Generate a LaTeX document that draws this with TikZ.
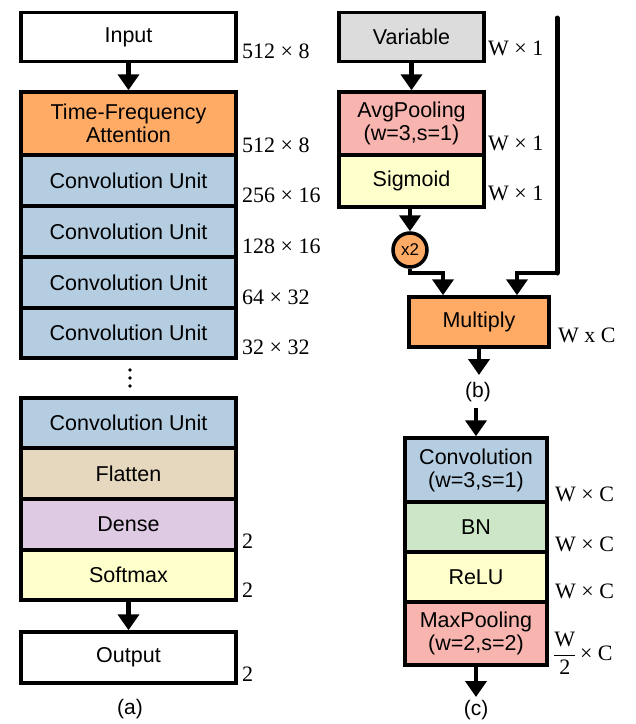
\documentclass[tikz,border=0pt]{standalone}
\usepackage{fontspec}
\setmainfont{Liberation Serif}
\newfontfamily\sansf{Liberation Sans}
\usetikzlibrary{arrows.meta}
\definecolor{corange}{HTML}{FFAB66}
\definecolor{cblue}{HTML}{B4CDE1}
\definecolor{cbeige}{HTML}{E6D8BE}
\definecolor{clav}{HTML}{DECBE3}
\definecolor{cyellow}{HTML}{FFFFCC}
\definecolor{cgray}{HTML}{DCDCDC}
\definecolor{cpink}{HTML}{F8B4AE}
\definecolor{cgreen}{HTML}{CDE6C8}
\tikzset{
  blk/.style={draw, line width=3.5pt, inner sep=0pt, align=center,
    font=\sansf\fontsize{21.5}{23}\selectfont},
  lcol/.style={blk, minimum width=215pt},
  rcol/.style={blk, minimum width=145pt},
  lab/.style={font=\fontsize{22}{24}\selectfont, inner sep=0pt, anchor=base west},
  captxt/.style={font=\sansf\fontsize{21}{23}\selectfont, inner sep=0pt},
  arr/.style={line width=4.5pt, -{Triangle[width=21pt,length=16pt]}},
}
\begin{document}
\begin{tikzpicture}[x=1pt,y=-1pt]
\useasboundingbox (0,0) rectangle (636,724);
% ---------- (a) ----------
\node[lcol, minimum height=49pt, fill=white] (inp) at (128.5,37) {Input};
\node[lcol, minimum height=63pt, fill=corange] (tf) at (128.5,123.5) {Time-Frequency\\Attention};
\node[lcol, minimum height=51pt, fill=cblue] (c1) at (128.5,180.5) {Convolution Unit};
\node[lcol, minimum height=51pt, fill=cblue] (c2) at (128.5,231.5) {Convolution Unit};
\node[lcol, minimum height=51pt, fill=cblue] (c3) at (128.5,282.5) {Convolution Unit};
\node[lcol, minimum height=50pt, fill=cblue] (c4) at (128.5,333) {Convolution Unit};
\foreach \yy in {370,378,386} \fill (130,\yy) circle (1.8pt);
\node[lcol, minimum height=50pt, fill=cblue] (c5) at (128.5,423) {Convolution Unit};
\node[lcol, minimum height=51pt, fill=cbeige] (fl) at (128.5,473.5) {Flatten};
\node[lcol, minimum height=51pt, fill=clav] (de) at (128.5,524.5) {Dense};
\node[lcol, minimum height=50pt, fill=cyellow] (sm) at (128.5,575) {Softmax};
\node[lcol, minimum height=51pt, fill=white] (out) at (128.5,657.5) {Output};
\node[captxt] (capa) at (130,709) {(a)};
\draw[arr] (inp) -- (tf);
\draw[arr] (sm) -- (out);
\node[lab] (l1) at (242,58) {512 × 8};
\node[lab] (l2) at (242,152) {512 × 8};
\node[lab] (l3) at (242,202) {256 × 16};
\node[lab] (l4) at (242,253) {128 × 16};
\node[lab] (l5) at (242,304) {64 × 32};
\node[lab] (l6) at (242,354) {32 × 32};
\node[lab] (l7) at (242,548) {2};
\node[lab] (l8) at (242,597) {2};
\node[lab] (l9) at (242,681) {2};
% ---------- (b) ----------
\node[rcol, minimum height=49pt, fill=cgray] (var) at (411.5,37) {Variable};
\node[rcol, minimum height=63pt, fill=cpink] (avg) at (411.5,123.5) {AvgPooling\\(w=3,s=1)};
\node[rcol, minimum height=52pt, fill=cyellow] (sig) at (411.5,181) {Sigmoid};
\node[draw, circle, line width=3.5pt, fill=corange, minimum size=34pt, inner sep=0pt,
  font=\sansf\fontsize{17}{17}\selectfont] (x2) at (410,250) {x2};
\node[blk, minimum width=140pt, minimum height=50pt, fill=corange] (mul) at (479,322) {Multiply};
\node[captxt] (capb) at (478,392) {(b)};
\draw[arr] (var) -- (avg);
\draw[arr] (sig.south -| x2) -- (x2);
\coordinate (jl) at (443,273);
\coordinate (rt) at (557,18);
\coordinate (jr) at (517,273);
\coordinate (be) at (479,375);
\draw[arr] (x2.south) -- (x2.south |- jl) -- (jl) -- (jl |- mul.north);
\draw[line width=5pt, line cap=round] (rt) -- (rt |- jr);
\draw[arr] (rt |- jr) -- (jr) -- (jr |- mul.north);
\draw[arr] (mul.south) -- (be);
\node[lab] (r1) at (488,55) {W × 1};
\node[lab] (r2) at (488,150) {W × 1};
\node[lab] (r3) at (488,200) {W × 1};
\node[lab] (r4) at (558,342) {W x C};
% ---------- (c) ----------
\node[blk, minimum width=142pt, minimum height=64pt, fill=cblue] (cv) at (476,470) {Convolution\\(w=3,s=1)};
\node[blk, minimum width=142pt, minimum height=50pt, fill=cgreen] (bn) at (476,527) {BN};
\node[blk, minimum width=142pt, minimum height=50pt, fill=cyellow] (re) at (476,577) {ReLU};
\node[blk, minimum width=142pt, minimum height=63pt, fill=cpink] (mp) at (476,633.5) {MaxPooling\\(w=2,s=2)};
\coordinate (cs) at (476,408);
\coordinate (ce) at (476,697);
\node[captxt] (capc) at (476,710) {(c)};
\draw[arr] (cs) -- (cv);
\draw[arr] (mp) -- (ce);
\node[lab] (s1) at (555,501) {W × C};
\node[lab] (s2) at (555,551) {W × C};
\node[lab] (s3) at (555,598) {W × C};
\node[lab, anchor=west] (s4) at (553,653) {$\displaystyle\frac{\mbox{W}}{\mbox{2}}$\,× C};
\end{tikzpicture}
\end{document}
